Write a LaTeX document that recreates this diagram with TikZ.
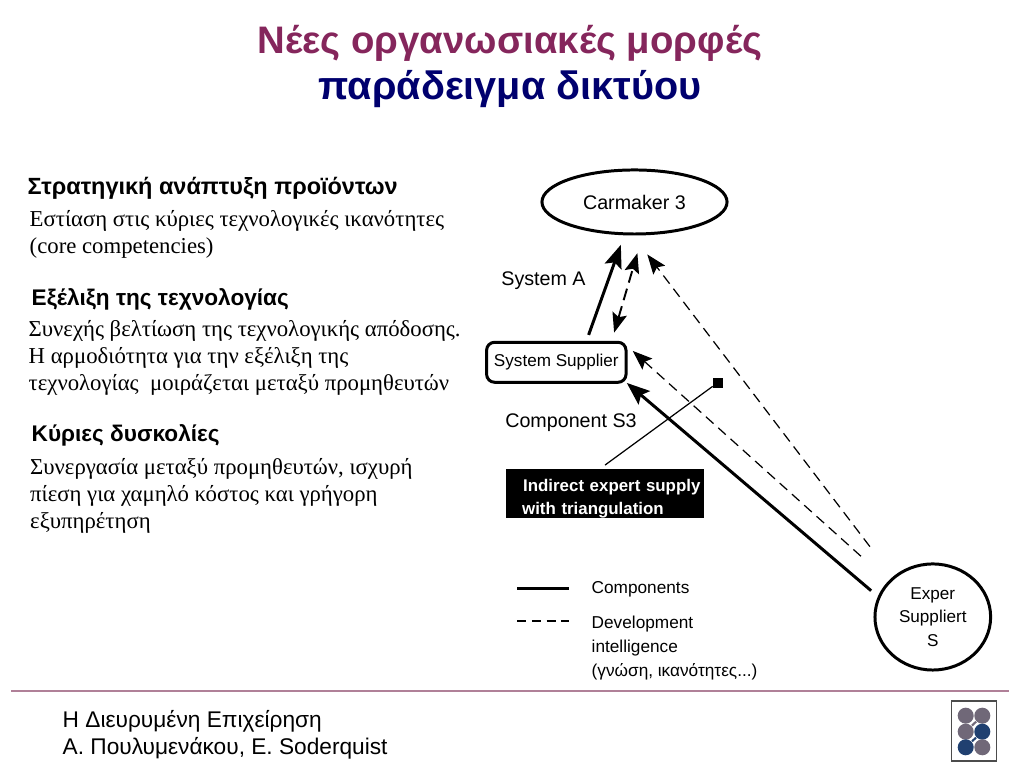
\documentclass[tikz,border=0pt]{standalone}
\usepackage{fontspec}
\setmainfont{Liberation Sans}
\newfontfamily\grserif{Liberation Serif}
\usepackage{xcolor}
\definecolor{maroonhead}{RGB}{133,38,92}
\definecolor{navyhead}{RGB}{0,0,110}
\definecolor{rulepink}{RGB}{176,128,152}
\definecolor{logogray}{RGB}{112,104,120}
\definecolor{logoblue}{RGB}{32,64,112}
\usetikzlibrary{shapes.geometric, arrows.meta}

\begin{document}
\begin{tikzpicture}[
    x=0.01cm, y=-0.01cm,
    titleline/.style={inner sep=0},
    heading/.style={anchor=west, inner sep=0, font=\bfseries\fontsize{6.43}{8}\selectfont},
    bodytext/.style={anchor=west, inner sep=0, align=left, font=\grserif\fontsize{6.47}{7.68}\selectfont},
    footline/.style={anchor=west, inner sep=0, align=left, font=\fontsize{6.45}{7.68}\selectfont},
    netlabel/.style={inner sep=0, font=\fontsize{5.6}{6.4}\selectfont},
    legendtext/.style={anchor=west, inner sep=0, align=left, font=\fontsize{4.9}{6.7}\selectfont},
    party/.style={draw, ellipse, line width=0.85pt, inner sep=0, outer sep=0, align=center},
    supplierbox/.style={draw, rectangle, rounded corners=2.3pt, line width=0.85pt, inner sep=0, outer sep=0},
    solidflow/.style={line width=0.85pt, -{Stealth[length=6.5pt, width=5pt, inset=1.2pt]}},
    dashedflow/.style={line width=0.35pt, dash pattern=on 2.9pt off 1.8pt, -{Stealth[length=5.6pt, width=4.2pt, inset=1pt]}},
    logodot/.style={circle, minimum size=0.16cm, inner sep=0}
  ]
  \useasboundingbox (0,0) rectangle (1024,768);

  % Title
  \node (title1) at (510,43) [titleline, text=maroonhead, font=\bfseries\fontsize{10.9}{12}\selectfont] {Νέες οργανωσιακές μορφές};
  \node (title2) at (510,89) [titleline, text=navyhead, font=\bfseries\fontsize{11.25}{12}\selectfont] {παράδειγμα δικτύου};

  % Left column
  \node (head1) at (27,188.5) [heading, font=\bfseries\fontsize{6.67}{8}\selectfont] {Στρατηγική ανάπτυξη προϊόντων};
  \node (body1) at (29,234) [bodytext] {Εστίαση στις κύριες τεχνολογικές ικανότητες\\(core competencies)};
  \node (head2) at (31,299) [heading] {Εξέλιξη της τεχνολογίας};
  \node (body2) at (28,358) [bodytext] {Συνεχής βελτίωση της τεχνολογικής απόδοσης.\\Η αρμοδιότητα για την εξέλιξη της\\τεχνολογίας\ \ μοιράζεται μεταξύ προμηθευτών};
  \node (head3) at (31,435) [heading] {Κύριες δυσκολίες};
  \node (body3) at (29.5,496) [bodytext] {Συνεργασία μεταξύ προμηθευτών, ισχυρή\\πίεση για χαμηλό κόστος και γρήγορη\\εξυπηρέτηση};

  % Network
  \node (carmaker) at (634.5,202) [party, minimum width=1.85cm, minimum height=0.64cm, font=\fontsize{5.6}{6.4}\selectfont] {\raisebox{-0.015cm}{Carmaker 3}};
  \node (supplier) at (556.3,362.3) [supplierbox, minimum width=1.394cm, minimum height=0.4cm, font=\fontsize{4.87}{6}\selectfont] {\raisebox{-0.015cm}{System Supplier}};
  \node (expert) at (932.8,617) [party, minimum width=1.156cm, minimum height=1.06cm, font=\fontsize{4.87}{6.7}\selectfont] {Exper\\Suppliert\\S};
  \node (note) at (605.2,493.6) [fill=black, text=white, minimum height=0.49cm, text width=1.98cm, inner xsep=0, inner ysep=0, outer sep=0, align=left, font=\bfseries\fontsize{4.8}{6.55}\selectfont] {\rule{0pt}{6.3pt}\hspace*{0.17cm}Indirect expert supply\\\hspace*{0.16cm}with triangulation};
  \node (pin) at (717.7,382.7) [fill=black, minimum size=0.1cm, inner sep=0, outer sep=0] {};
  \node (sysa) at (543.5,281) [netlabel] {System A};
  \node (comps3) at (571,423) [netlabel] {Component S3};

  \draw[solidflow, shorten <=0.078cm, shorten >=0.117cm] (supplier.34.6) -- (carmaker.253);
  \draw[dashedflow, line width=0.55pt, dash pattern=on 3.4pt off 1.8pt, {Stealth[length=5.6pt, width=4.2pt, inset=1pt]}-{Stealth[length=5.6pt, width=4.2pt, inset=1pt]}, shorten <=0.1cm, shorten >=0.201cm] (supplier.20) -- (carmaker.285);
  \draw[dashedflow, shorten <=0.393cm, shorten >=0.257cm] (expert.135) -- (carmaker.265);
  \draw[dashedflow, shorten <=0.383cm, shorten >=0.09cm] (expert.141.6) -- (supplier.14.2);
  \draw[solidflow, shorten <=0.104cm, shorten >=0.01cm] (expert.160.3) -- (supplier.south east);
  \draw[line width=0.35pt, shorten <=0.068cm] (note.103) -- (pin);

  % Legend
  \coordinate (solidA) at (517,589);
  \coordinate (solidB) at (569,589);
  \coordinate (dashA) at (517,621);
  \coordinate (dashB) at (569,621);
  \draw[line width=0.85pt] (solidA) -- (solidB);
  \draw[line width=0.3pt, dash pattern=on 2.6pt off 1.6pt] (dashA) -- (dashB);
  \node (legcomp) at (591,589) [legendtext] {Components};
  \node (legdev) at (591,648) [legendtext] {Development\\intelligence\\(γνώση, ικανότητες...)};

  % Footer
  \coordinate (ruleA) at (11,691);
  \coordinate (ruleB) at (1009,691);
  \draw[rulepink, line width=0.35pt] (ruleA) -- (ruleB);
  \node (foot) at (62,734.5) [footline] {Η Διευρυμένη Επιχείρηση\\Α. Πουλυμενάκου, Ε. Soderquist};

  % Logo
  \node (logo) at (974,731) [draw=black!70, line width=0.3pt, minimum width=0.45cm, minimum height=0.6cm, inner sep=0] {};
  \foreach \name/\px/\py/\col in {a/965.7/715.7/logogray, b/982.3/715.7/logogray, c/965.7/731.7/logogray, d/982.3/731.7/logoblue, e/965.7/747.3/logoblue, f/982.3/747.3/logogray}
    \node (dot\name) at (\px,\py) [logodot, fill=\col] {};
  \draw[logogray, line width=0.6pt] (dotb) -- (dotc);
  \draw[logoblue, line width=0.6pt] (dotd) -- (dote);
\end{tikzpicture}
\end{document}
